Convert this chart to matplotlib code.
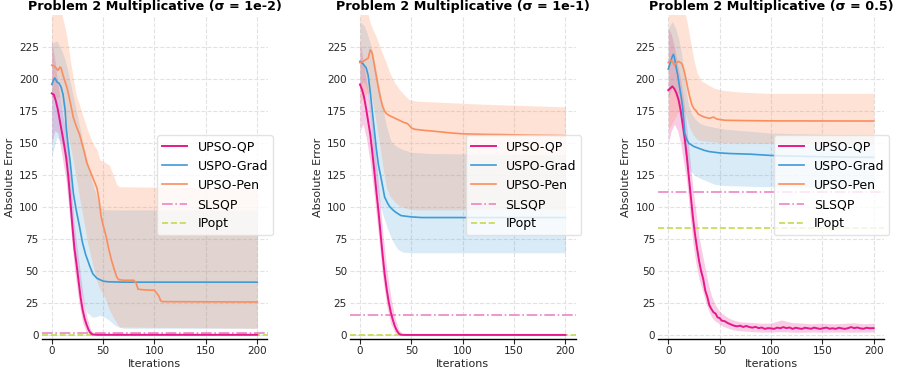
import matplotlib
matplotlib.use("Agg")
import matplotlib.pyplot as plt

# ---------------- sigma = 1e-2 ----------------
s1_qp_it = [0, 2, 4, 6, 8, 10, 12, 14, 16, 18, 20, 22, 24, 26, 28, 30, 32, 34, 36, 38, 40, 45, 200]
s1_qp_mean = [189, 188, 183, 176, 167, 158, 149, 139, 125, 106, 86, 68, 56, 43, 30, 20, 13, 8, 4, 1.5, 0.6, 0.4, 0.4]
s1_qp_bit = [0, 3, 6, 10, 14, 18, 22, 26, 30, 34, 38, 42, 200]
s1_qp_lo = [150, 160, 158, 140, 120, 88, 52, 28, 10, 2, 0, 0, 0]
s1_qp_hi = [230, 215, 196, 176, 158, 126, 86, 60, 34, 15, 4, 1.2, 1.0]

s1_gd_it = [0, 2, 3, 5, 7, 9, 11, 13, 14, 16, 18, 21, 24, 27, 30, 33, 37, 40, 44, 50, 55, 70, 200]
s1_gd_mean = [196, 200, 201, 198, 197, 194, 188, 176, 163, 148, 135, 111, 97, 85, 72, 63, 54, 48, 44.5, 42.3, 41.8, 41.5, 41.5]
s1_gd_bit = [0, 5, 10, 13, 16, 20, 24, 28, 32, 34, 40, 47, 52, 57, 61, 65, 70, 200]
s1_gd_lo = [140, 155, 150, 135, 110, 80, 52, 36, 24, 18, 14, 15.5, 14, 11, 8, 6.5, 5.5, 5.5]
s1_gd_hi = [228, 230, 222, 215, 205, 190, 175, 160, 145, 138, 118, 100, 98, 98, 98, 98, 98, 98]

s1_pn_it = [0, 2, 4, 6, 8, 9, 11, 13, 15, 18, 21, 24, 27, 30, 32, 34, 37, 40, 42, 44,
            46, 48, 50, 53, 55, 58, 61, 63, 65, 70, 80, 82, 84, 90, 100, 102, 104, 106, 108, 200]
s1_pn_mean = [211, 210.5, 209, 207, 209.5, 209, 203, 198, 193, 182, 170, 163, 157, 148, 142, 135, 129, 123, 119, 115,
              106, 93, 86, 77, 69, 59, 51, 46, 43.5, 43, 43, 41, 36, 35.5, 35.2, 33, 31, 27, 26.3, 26]
s1_pn_bit = [0, 8, 10, 13, 15, 18, 21, 24, 27, 30, 35, 40, 44, 47, 52, 56, 60, 63, 66, 200]
s1_pn_hi = [262, 258, 250, 240, 232, 215, 200, 187, 180, 172, 160, 150, 145, 137, 135, 133, 125, 118, 116, 115]
s1_pn_lo = [185, 186, 178, 168, 160, 148, 136, 122, 108, 95, 72, 55, 42, 36, 29, 20, 14, 10, 6.5, 5.5]

s1_slsqp = 1.5
s1_ipopt = 0.3

# ---------------- sigma = 1e-1 ----------------
s2_qp_it = [0, 2, 4, 6, 8, 10, 12, 14, 16, 18, 20, 22, 24, 26, 28, 30, 32, 34, 36, 38, 40, 45, 200]
s2_qp_mean = [196, 192, 186, 177, 167, 157, 143, 128, 112, 97, 80, 63, 48, 36, 26, 18, 12, 7, 3.5, 1.2, 0.4, 0.3, 0.3]
s2_qp_bit = [0, 3, 6, 10, 14, 18, 22, 26, 30, 34, 38, 42, 200]
s2_qp_lo = [160, 165, 155, 135, 108, 78, 46, 23, 9, 2, 0, 0, 0]
s2_qp_hi = [230, 215, 200, 180, 150, 118, 82, 52, 30, 14, 4, 1.2, 1.0]

s2_gd_it = [0, 3, 6, 8, 10, 12, 14, 16, 18, 21, 24, 27, 29, 32, 35, 40, 50, 60, 200]
s2_gd_mean = [214, 212, 209, 203, 190, 175, 160, 145, 133, 121, 108, 103, 100.5, 98, 96, 93.5, 92.5, 92, 92]
s2_gd_bit = [0, 4, 7, 10, 12, 14, 16, 18, 21, 24, 27, 30, 33, 37, 42, 50, 70, 200]
s2_gd_lo = [195, 198, 192, 172, 150, 132, 118, 108, 98, 90, 83, 77, 72, 67, 65, 64.5, 64.5, 64.5]
s2_gd_hi = [245, 242, 236, 228, 222, 214, 206, 197, 185, 170, 160, 152, 149, 147, 145, 143, 142, 141]

s2_pn_it = [0, 3, 5, 8, 10, 11, 12, 14, 16, 18, 20, 22, 24, 26, 29, 33, 37, 42, 46, 48,
            50, 53, 60, 70, 80, 90, 100, 120, 140, 160, 180, 200]
s2_pn_mean = [213, 214, 215, 216.5, 223, 222, 220, 211, 202, 193, 185, 179, 175, 173, 171.5, 170, 168.5, 166.5, 165.5, 164,
              162, 161, 160.3, 159.6, 158.8, 158, 157.4, 157, 156.8, 156.4, 156.2, 156]
s2_pn_bit = [0, 5, 10, 13, 16, 20, 23, 26, 29, 34, 39, 44, 48, 55, 80, 120, 160, 200]
s2_pn_hi = [265, 260, 244, 238, 233, 224, 218, 212, 205, 197, 191.5, 187, 184, 183, 182, 180.5, 179.5, 178.5]
s2_pn_lo = [182, 188, 190, 180, 165, 145, 128, 115, 109, 104, 101, 99.5, 98.5, 98, 98, 98, 98, 98]

s2_slsqp = 15.9
s2_ipopt = 0.3

# ---------------- sigma = 0.5 ----------------
s3_qp_it = [0, 2, 4, 6, 8, 10, 12, 14, 16, 18, 20, 22, 24, 26, 28, 30, 32, 34, 36, 38,
            40, 42, 44, 46, 48, 50, 52, 55, 58, 61, 64, 67, 70, 73, 76, 79, 82, 85, 88, 91,
            94, 97, 100, 103, 106, 109, 112, 115, 118, 121, 124, 127, 130, 133, 136, 139, 142, 145, 148, 151,
            154, 157, 160, 163, 166, 169, 172, 175, 178, 181, 184, 187, 190, 193, 196, 199, 200]
s3_qp_mean = [191.5, 193, 194.5, 192.5, 189, 184, 176, 165, 154, 140, 124, 108, 92, 79, 68, 58, 50, 44, 35, 30,
              23.5, 20.5, 18, 17, 14, 13.5, 11.5, 11, 9.5, 8.5, 7.5, 7, 7.5, 6.5, 7.3, 6.4, 6.0, 6.6, 5.6, 6.1,
              5.0, 5.6, 5.4, 5.0, 6.0, 5.5, 6.4, 5.6, 6.1, 5.0, 5.9, 5.4, 5.0, 5.9, 5.5, 5.1, 6.0, 5.4, 5.0, 5.6,
              6.0, 5.1, 5.5, 5.0, 5.9, 5.4, 5.0, 5.6, 6.4, 5.6, 6.1, 5.4, 5.1, 5.9, 5.5, 5.6, 5.5]
s3_qp_bit = [0, 3, 6, 9, 12, 15, 18, 21, 24, 27, 30, 33, 36, 39, 42, 45, 48, 51, 55, 60,
             65, 70, 80, 90, 100, 110, 120, 130, 140, 150, 160, 170, 180, 190, 200]
s3_qp_lo = [150, 160, 165, 160, 150, 135, 120, 95, 72, 56, 44, 36, 27, 20, 14.5, 11.5, 10, 8, 6.5, 5,
            4, 3.5, 3, 2.5, 2.5, 2.8, 2.5, 2.3, 2.6, 2.4, 2.5, 2.6, 2.4, 2.5, 2.5]
s3_qp_hi = [240, 235, 225, 212, 200, 184, 162, 138, 115, 96, 76, 64, 52, 40, 31, 25, 21, 18, 15.5, 13,
            11.5, 10.5, 10, 9.5, 9.5, 12, 10, 9.5, 9, 9.5, 9, 9.3, 9.8, 9, 9.5]

s3_gd_it = [0, 2, 4, 5, 6, 7, 9, 11, 13, 14, 15, 16, 18, 20, 25, 30, 35, 40, 50, 60, 80, 100, 120, 150, 200]
s3_gd_mean = [208, 213, 218, 219.5, 217, 212, 204, 194, 184, 178, 168, 158, 153, 150, 147.5, 146, 144.5, 143.5,
              142.5, 142, 141.5, 140.5, 140, 139.5, 139]
s3_gd_bit = [0, 4, 7, 10, 13, 16, 19, 22, 26, 30, 36, 45, 55, 100, 150, 200]
s3_gd_lo = [185, 195, 192, 178, 160, 142, 132, 128, 125, 123, 121, 118, 117, 116, 115.5, 115]
s3_gd_hi = [240, 245, 240, 232, 220, 200, 182, 174, 169, 166, 164, 162.5, 161, 158, 157, 156]

s3_pn_it = [0, 2, 4, 6, 8, 10, 13, 15, 17, 19, 21, 23, 25, 27, 29, 31, 35, 40, 44, 47, 55, 70, 100, 200]
s3_pn_mean = [213, 215, 214, 211, 213, 214, 212.5, 208, 201, 193, 186, 180, 177, 175.5, 173, 172, 170.5, 169.5,
              170.5, 169, 168, 167.8, 167.5, 167.4]
s3_pn_bit = [0, 10, 15, 18, 20, 22, 25, 28, 32, 38, 45, 52, 70, 100, 200]
s3_pn_hi = [262, 262, 255, 246, 237, 228, 215, 205, 199, 196, 193, 191.5, 190, 189, 189]
s3_pn_lo = [160, 175, 176, 170, 164, 160, 156, 153, 152, 151.5, 151, 150.5, 150.3, 150, 149]

s3_slsqp = 111.7
s3_ipopt = 84.0

titles = ["Problem 2 Multiplicative (σ = 1e-2)",
          "Problem 2 Multiplicative (σ = 1e-1)",
          "Problem 2 Multiplicative (σ = 0.5)"]
method_labels = ["UPSO-QP", "USPO-Grad", "UPSO-Pen"]
baseline_labels = ["SLSQP", "IPopt"]

QP_C = "#e6198a"
GD_C = "#3d9bd6"
PN_C = "#fc8d5c"
SLSQP_C = "#eb85c6"
IPOPT_C = "#c4da4e"

panels = [
    ((s1_qp_it, s1_qp_mean, s1_qp_bit, s1_qp_lo, s1_qp_hi),
     (s1_gd_it, s1_gd_mean, s1_gd_bit, s1_gd_lo, s1_gd_hi),
     (s1_pn_it, s1_pn_mean, s1_pn_bit, s1_pn_lo, s1_pn_hi),
     s1_slsqp, s1_ipopt),
    ((s2_qp_it, s2_qp_mean, s2_qp_bit, s2_qp_lo, s2_qp_hi),
     (s2_gd_it, s2_gd_mean, s2_gd_bit, s2_gd_lo, s2_gd_hi),
     (s2_pn_it, s2_pn_mean, s2_pn_bit, s2_pn_lo, s2_pn_hi),
     s2_slsqp, s2_ipopt),
    ((s3_qp_it, s3_qp_mean, s3_qp_bit, s3_qp_lo, s3_qp_hi),
     (s3_gd_it, s3_gd_mean, s3_gd_bit, s3_gd_lo, s3_gd_hi),
     (s3_pn_it, s3_pn_mean, s3_pn_bit, s3_pn_lo, s3_pn_hi),
     s3_slsqp, s3_ipopt),
]

W, H = 909, 375
fig = plt.figure(figsize=(W / 100, H / 100), dpi=100)
lefts = [41.5, 349.7, 658.0]

method_styles = [
    (QP_C, 1.4, 0.22),
    (GD_C, 1.2, 0.20),
    (PN_C, 1.2, 0.25),
]

for k, (qp, gd, pn, slsqp, ipopt) in enumerate(panels):
    ax = fig.add_axes([lefts[k] / W, 36.5 / H, 226 / W, 323.2 / H])
    ax.set_axisbelow(True)
    ax.grid(True, linestyle="--", color="#e2e2e2", linewidth=0.8)

    for (it, mean, bit, lo, hi), label, (col, lw, alpha) in zip((qp, gd, pn), method_labels, method_styles):
        ax.fill_between(bit, lo, hi, color=col, alpha=alpha, linewidth=0, zorder=1)
        ax.plot(it, mean, color=col, linewidth=lw, label=label, zorder=3)

    ax.axhline(slsqp, color=SLSQP_C, linestyle="-.", linewidth=1.2, label=baseline_labels[0], zorder=2)
    ax.axhline(ipopt, color=IPOPT_C, linestyle="--", linewidth=1.2, label=baseline_labels[1], zorder=2)

    ax.set_xlim(-10, 210)
    ax.set_ylim(-2.5, 250)
    ax.set_xticks([0, 50, 100, 150, 200])
    ax.set_yticks(list(range(0, 226, 25)))
    ax.tick_params(axis="y", length=0, pad=2, labelsize=7.5, colors="#262626")
    ax.tick_params(axis="x", length=3.5, width=0.8, pad=2, labelsize=7.5, colors="#262626")
    for side in ("top", "right", "left"):
        ax.spines[side].set_visible(False)
    ax.spines["bottom"].set_linewidth(1.0)

    ax.set_title(titles[k], fontsize=9.2, fontweight="bold", pad=4)
    ax.set_xlabel("Iterations", fontsize=8, labelpad=2, color="#262626")
    ax.set_ylabel("Absolute Error", fontsize=8, labelpad=3, color="#262626")

    ax.legend(loc="center right", bbox_to_anchor=(1.024, 0.474), borderaxespad=0,
              fontsize=9, framealpha=0.8, edgecolor="#dddddd")

fig.savefig("out.png", dpi=100)
